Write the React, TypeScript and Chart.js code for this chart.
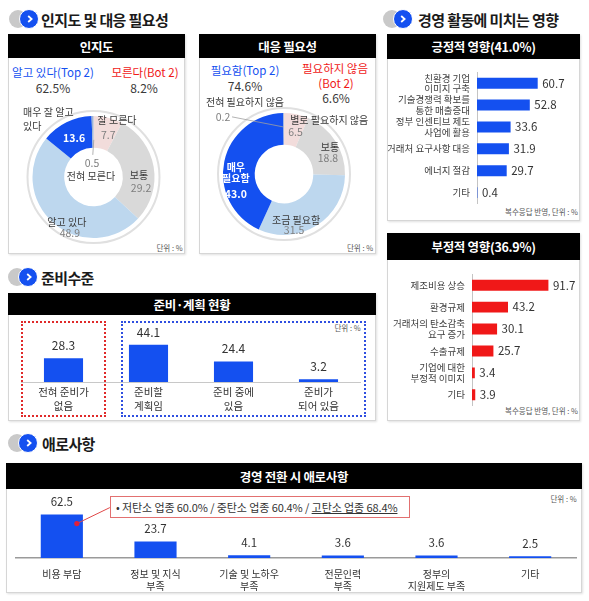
import React, { useEffect, useRef } from "react";
import { Chart, registerables } from "chart.js";

Chart.register(...registerables);

const FONT = '"Noto Sans CJK KR", "Noto Sans", sans-serif';
Chart.defaults.font.family = FONT;

// ---------- data ----------
const awarenessLabels: (string | string[])[] = ["잘 모른다", "보통", "알고 있다", ["매우 잘 알고", "있다"], "전혀 모른다"];
const awarenessValues = [7.7, 29.2, 48.9, 13.6, 0.5];
const awarenessTop2 = 62.5;
const awarenessBot2 = 8.2;

const needLabels: (string | string[])[] = ["별로 필요하지 않음", "보통", "조금 필요함", ["매우", "필요함"], "전혀 필요하지 않음"];
const needValues = [6.5, 18.8, 31.5, 43.0, 0.2];
const needTop2 = 74.6;
const needBot2 = 6.6;

const positiveShare = 41.0;
const positiveLabels: (string | string[])[] = [
  ["친환경 기업", "이미지 구축"],
  ["기술경쟁력 확보를", "통한 매출증대"],
  ["정부 인센티브 제도", "사업에 활용"],
  "거래처 요구사항 대응",
  "에너지 절감",
  "기타",
];
const positiveValues = [60.7, 52.8, 33.6, 31.9, 29.7, 0.4];

const negativeShare = 36.9;
const negativeLabels: (string | string[])[] = [
  "제조비용 상승",
  "환경규제",
  ["거래처의 탄소감축", "요구 증가"],
  "수출규제",
  ["기업에 대한", "부정적 이미지"],
  "기타",
];
const negativeValues = [91.7, 43.2, 30.1, 25.7, 3.4, 3.9];

const prepLabels: (string | string[])[] = [
  ["전혀 준비가", "없음"],
  ["준비할", "계획임"],
  ["준비 중에", "있음"],
  ["준비가", "되어 있음"],
];
const prepValues = [28.3, 44.1, 24.4, 3.2];

const barrierLabels: (string | string[])[] = [
  "비용 부담",
  ["정보 및 지식", "부족"],
  ["기술 및 노하우", "부족"],
  ["전문인력", "부족"],
  ["정부의", "지원제도 부족"],
  "기타",
];
const barrierValues = [62.5, 23.7, 4.1, 3.6, 3.6, 2.5];

const calloutGroups = ["저탄소 업종", "중탄소 업종", "고탄소 업종"];
const calloutValues = [60.0, 60.4, 68.4];

// ---------- styles ----------
const BLUE = "#1450f0";
const RED = "#f01818";
const DARK = "#3a3a3a";
const GRAY = "#7f7f7f";
const DONUT_COLORS = ["#f2dcdb", "#d9d9d9", "#bdd7ee", "#1450f0", "#9fb3d3"];

type LabelStyle = {
  nx: number; ny: number; na: CanvasTextAlign; nColor: string; nBold?: boolean; lh: number;
  vx: number; vy: number; va: CanvasTextAlign; vColor: string; vBold?: boolean;
  line?: [number, number, number, number];
};

const awarenessLabelStyle: LabelStyle[] = [
  { nx: -6.8, ny: -13.3, na: "left", nColor: DARK, lh: 13, vx: -3.3, vy: 1.7, va: "left", vColor: GRAY },
  { nx: 1, ny: 6, na: "center", nColor: DARK, lh: 13, vx: 3, vy: 18.6, va: "center", vColor: GRAY },
  { nx: 3, ny: 11, na: "center", nColor: DARK, lh: 13, vx: 6, vy: 22, va: "center", vColor: GRAY },
  { nx: -50.4, ny: -24.8, na: "left", nColor: DARK, lh: 14, vx: 0.6, vy: 1.2, va: "center", vColor: "#ffffff", vBold: true },
  { nx: -1.8, ny: 44, na: "center", nColor: DARK, lh: 13, vx: -0.8, vy: 31, va: "center", vColor: GRAY, line: [1, 8, 0, 23] },
];

const needLabelStyle: LabelStyle[] = [
  { nx: -3, ny: -10, na: "left", nColor: DARK, lh: 13, vx: -5, vy: 2, va: "left", vColor: GRAY },
  { nx: 8, ny: -2.5, na: "center", nColor: DARK, lh: 13, vx: 6, vy: 8, va: "center", vColor: GRAY },
  { nx: -12, ny: 8, na: "center", nColor: DARK, lh: 13, vx: -14, vy: 18, va: "center", vColor: GRAY },
  { nx: -4, ny: 2.3, na: "center", nColor: "#ffffff", nBold: true, lh: 11.5, vx: -4, vy: 29.3, va: "center", vColor: "#ffffff", vBold: true },
  { nx: -38.7, ny: -27, na: "center", nColor: DARK, lh: 13, vx: -60.7, vy: -12, va: "center", vColor: GRAY, line: [-51.7, -12, -0.7, -2] },
];

// ---------- plugins ----------
const ringPlugin = {
  id: "ring",
  beforeDatasetsDraw(chart: any) {
    const arc = chart.getDatasetMeta(0).data[0] as any;
    if (!arc) return;
    const ctx = chart.ctx;
    ctx.save();
    ctx.beginPath();
    ctx.arc(arc.x, arc.y, arc.outerRadius + 5, 0, Math.PI * 2);
    ctx.strokeStyle = "#e0e0e0";
    ctx.lineWidth = 2;
    ctx.stroke();
    ctx.restore();
  },
};

function donutLabels(labels: (string | string[])[], values: number[], styles: LabelStyle[]) {
  return {
    id: "donutLabels",
    afterDatasetsDraw(chart: any) {
      const ctx = chart.ctx as CanvasRenderingContext2D;
      const meta = chart.getDatasetMeta(0);
      meta.data.forEach((arc: any, i: number) => {
        const s = styles[i];
        const p = arc.tooltipPosition(false);
        ctx.save();
        if (s.line) {
          ctx.beginPath();
          ctx.moveTo(p.x + s.line[0], p.y + s.line[1]);
          ctx.lineTo(p.x + s.line[2], p.y + s.line[3]);
          ctx.strokeStyle = "#a0a0a0";
          ctx.lineWidth = 0.8;
          ctx.stroke();
        }
        const raw = labels[i];
        const lines = Array.isArray(raw) ? raw : [raw];
        ctx.textBaseline = "middle";
        ctx.font = `${s.nBold ? 700 : 400} 10px ${FONT}`;
        ctx.fillStyle = s.nColor;
        ctx.textAlign = s.na;
        lines.forEach((t, k) => ctx.fillText(t, p.x + s.nx, p.y + s.ny + k * s.lh));
        ctx.font = `${s.vBold ? 700 : 400} 10.5px ${FONT}`;
        ctx.fillStyle = s.vColor;
        ctx.textAlign = s.va;
        ctx.fillText(values[i].toFixed(1), p.x + s.vx, p.y + s.vy);
        ctx.restore();
      });
    },
  };
}

function valueLabels(horizontal: boolean, size: number, offset: number) {
  return {
    id: "valueLabels",
    afterDatasetsDraw(chart: any) {
      const ctx = chart.ctx as CanvasRenderingContext2D;
      const meta = chart.getDatasetMeta(0);
      const data = chart.data.datasets[0].data as number[];
      ctx.save();
      ctx.font = `400 ${size}px ${FONT}`;
      ctx.fillStyle = "#333333";
      ctx.textBaseline = "middle";
      meta.data.forEach((el: any, i: number) => {
        const txt = data[i].toFixed(1);
        if (horizontal) {
          ctx.textAlign = "left";
          ctx.fillText(txt, el.x + offset, el.y);
        } else {
          ctx.textAlign = "center";
          ctx.fillText(txt, el.x, el.y - offset);
        }
      });
      ctx.restore();
    },
  };
}

const calloutPointer = {
  id: "calloutPointer",
  afterDatasetsDraw(chart: any) {
    const bar = chart.getDatasetMeta(0).data[0] as any;
    if (!bar) return;
    const ctx = chart.ctx as CanvasRenderingContext2D;
    ctx.save();
    ctx.strokeStyle = "#e04848";
    ctx.lineWidth = 1;
    ctx.beginPath();
    ctx.moveTo(bar.x + 15, bar.y + 9);
    ctx.lineTo(bar.x + 48, bar.y - 7);
    ctx.stroke();
    ctx.fillStyle = "#e0203a";
    ctx.beginPath();
    ctx.arc(bar.x + 15, bar.y + 9, 2.6, 0, Math.PI * 2);
    ctx.fill();
    ctx.restore();
  },
};

// ---------- configs ----------
function donutConfig(labels: (string | string[])[], values: number[], styles: LabelStyle[], padding: any) {
  return {
    type: "doughnut" as const,
    data: {
      labels: labels.map((l) => (Array.isArray(l) ? l.join(" ") : l)),
      datasets: [{ data: values, backgroundColor: DONUT_COLORS, borderWidth: 0, hoverOffset: 0 }],
    },
    options: {
      animation: false as const,
      responsive: true,
      maintainAspectRatio: false,
      events: [] as any[],
      cutout: "48%",
      layout: { padding },
      plugins: { legend: { display: false }, tooltip: { enabled: false } },
    },
    plugins: [ringPlugin, donutLabels(labels, values, styles)],
  };
}

function hbarConfig(labels: (string | string[])[], values: number[], color: string, max: number, axisWidth: number, padding: any) {
  return {
    type: "bar" as const,
    data: {
      labels,
      datasets: [{ data: values, backgroundColor: color, barPercentage: 0.5, categoryPercentage: 1 }],
    },
    options: {
      indexAxis: "y" as const,
      animation: false as const,
      responsive: true,
      maintainAspectRatio: false,
      events: [] as any[],
      layout: { padding },
      plugins: { legend: { display: false }, tooltip: { enabled: false } },
      scales: {
        x: { display: false, min: 0, max },
        y: {
          grid: { display: false, drawTicks: false },
          border: { display: true, color: "#c4c4c4", width: 1 },
          ticks: { font: { size: 9.5, lineHeight: 1.1 }, color: "#404040", padding: 7, autoSkip: false },
          afterFit: (s: any) => {
            s.width = axisWidth;
          },
        },
      },
    },
    plugins: [valueLabels(true, 11.5, 4.5)],
  };
}

function vbarConfig(labels: (string | string[])[], values: number[], max: number, axisH: number, padTop: number,
  fontSize: number, lineHeight: number, tickPad: number, barPct: number, borderColor: string, borderWidth: number, extra: any[]) {
  return {
    type: "bar" as const,
    data: {
      labels,
      datasets: [{ data: values, backgroundColor: BLUE, barPercentage: barPct, categoryPercentage: 1 }],
    },
    options: {
      animation: false as const,
      responsive: true,
      maintainAspectRatio: false,
      events: [] as any[],
      layout: { padding: { top: padTop, left: 0, right: 0, bottom: 0 } },
      plugins: { legend: { display: false }, tooltip: { enabled: false } },
      scales: {
        x: {
          grid: { display: false, drawTicks: false },
          border: { display: true, color: borderColor, width: borderWidth },
          ticks: { font: { size: fontSize, lineHeight }, color: "#333333", padding: tickPad, autoSkip: false, maxRotation: 0 },
          afterFit: (s: any) => {
            s.height = axisH;
          },
        },
        y: { display: false, min: 0, max },
      },
    },
    plugins: [valueLabels(false, fontSize + 1.5, 12.5), ...extra],
  };
}

// ---------- components ----------
function ChartCanvas({ left, top, width, height, make }: { left: number; top: number; width: number; height: number; make: () => any }) {
  const ref = useRef<HTMLCanvasElement>(null);
  useEffect(() => {
    const chart = new Chart(ref.current as HTMLCanvasElement, make());
    return () => chart.destroy();
  }, []);
  return (
    <div style={{ position: "absolute", left, top, width, height }}>
      <canvas ref={ref} />
    </div>
  );
}

function Icon({ cx, cy }: { cx: number; cy: number }) {
  return (
    <>
      <div style={{ position: "absolute", left: cx - 20, top: cy - 9, width: 18, height: 18, borderRadius: "50%", background: "#c9c9c9" }} />
      <div style={{ position: "absolute", left: cx - 10, top: cy - 10, width: 20, height: 20, borderRadius: "50%", background: BLUE, border: "1.5px solid #fff", boxSizing: "border-box" }} />
      <svg style={{ position: "absolute", left: cx - 2.5, top: cy - 4 }} width="7" height="8">
        <polyline points="1.2,1 4.6,4 1.2,7" fill="none" stroke="#fff" strokeWidth="1.8" />
      </svg>
    </>
  );
}

function Heading({ x, y, text }: { x: number; y: number; text: string }) {
  return (
    <div style={{ position: "absolute", left: x, top: y, transform: "translateY(-50%)", fontSize: 15, fontWeight: 700, letterSpacing: -0.6, lineHeight: 1, color: "#1a1a1a", whiteSpace: "nowrap" }}>
      {text}
    </div>
  );
}

function Box({ x, y, w, h, headH, title }: { x: number; y: number; w: number; h: number; headH: number; title: string }) {
  return (
    <div style={{ position: "absolute", left: x, top: y, width: w, height: h, border: "1px solid #d6d6d6", boxSizing: "border-box", boxShadow: "1px 1px 2px rgba(0,0,0,0.12)", background: "#fff" }}>
      <div style={{ margin: -1, height: headH, background: "#000", color: "#fff", fontWeight: 700, fontSize: 12.5, letterSpacing: -0.3, display: "flex", alignItems: "center", justifyContent: "center" }}>
        {title}
      </div>
    </div>
  );
}

function T({ x, y, children, size = 11, color = DARK, align = "center", weight = 400 }: any) {
  const tx = align === "center" ? "-50%" : align === "right" ? "-100%" : "0";
  return (
    <div style={{ position: "absolute", left: x, top: y, transform: `translate(${tx}, -50%)`, fontSize: size, color, fontWeight: weight, lineHeight: 1.1, whiteSpace: "nowrap" }}>
      {children}
    </div>
  );
}

export default function App() {
  return (
    <div style={{ position: "absolute", left: 0, top: 0, width: 589, height: 601, background: "#fff", fontFamily: FONT, overflow: "hidden" }}>
      <Icon cx={29} cy={19} />
      <Heading x={41} y={19} text="인지도 및 대응 필요성" />
      <Icon cx={402.5} cy={19} />
      <Heading x={418} y={19} text="경영 활동에 미치는 영향" />
      <Icon cx={28} cy={277} />
      <Heading x={41} y={277} text="준비수준" />
      <Icon cx={28} cy={443} />
      <Heading x={42} y={443} text="애로사항" />

      <Box x={8} y={34} w={177} h={220} headH={24} title="인지도" />
      <Box x={199} y={34} w={177} h={220} headH={24} title="대응 필요성" />
      <Box x={387} y={34} w={193} h={187} headH={25} title={`긍정적 영향(${positiveShare.toFixed(1)}%)`} />
      <Box x={387} y={233} w={193} h={188} headH={27} title={`부정적 영향(${negativeShare.toFixed(1)}%)`} />
      <Box x={8} y={293} w={368} h={128} headH={22} title="준비·계획 현황" />
      <Box x={6} y={463} w={576} h={130} headH={26} title="경영 전환 시 애로사항" />

      {/* dotted groups */}
      <div style={{ position: "absolute", left: 21, top: 321, width: 85, height: 96, border: "2px dotted #e02a2a", boxSizing: "border-box" }} />
      <div style={{ position: "absolute", left: 121, top: 321, width: 245, height: 96, border: "2px dotted #2f4fe0", boxSizing: "border-box" }} />

      {/* summary texts */}
      <T x={53} y={72} color={BLUE} size={11.5}>알고 있다(Top 2)</T>
      <T x={53} y={88} size={12}>{awarenessTop2.toFixed(1)}%</T>
      <T x={145} y={72} color={RED} size={11.5}>모른다(Bot 2)</T>
      <T x={144} y={88} size={12}>{awarenessBot2.toFixed(1)}%</T>
      <T x={169.5} y={248} size={7.5} color="#555">단위 : %</T>

      <T x={245} y={70} color={BLUE} size={11.5}>필요함(Top 2)</T>
      <T x={245} y={86} size={12}>{needTop2.toFixed(1)}%</T>
      <T x={335} y={68} color={RED} size={11.5}>필요하지 않음</T>
      <T x={336} y={83} color={RED} size={11.5}>(Bot 2)</T>
      <T x={336} y={98} size={12}>{needBot2.toFixed(1)}%</T>
      <T x={360} y={248} size={7.5} color="#555">단위 : %</T>

      <T x={578} y={212} size={7.5} color="#555" align="right">복수응답 반영, 단위 : %</T>
      <T x={578} y={411} size={7.5} color="#555" align="right">복수응답 반영, 단위 : %</T>
      <T x={347.5} y={328} size={7.5} color="#555">단위 : %</T>
      <T x={563.5} y={499} size={7.5} color="#555">단위 : %</T>

      {/* charts */}
      <ChartCanvas left={9} top={100} width={175} height={153}
        make={() => donutConfig(awarenessLabels, awarenessValues, awarenessLabelStyle, { left: 23.5, right: 29.5, top: 16, bottom: 15 })} />
      <ChartCanvas left={200} top={90} width={175} height={163}
        make={() => donutConfig(needLabels, needValues, needLabelStyle, { left: 23, right: 30, top: 23, bottom: 18 })} />
      <ChartCanvas left={388} top={60} width={191} height={161}
        make={() => hbarConfig(positiveLabels, positiveValues, BLUE, 100, 89, { top: 5, bottom: 0, right: 2, left: 0 })} />
      <ChartCanvas left={388} top={262} width={191} height={156}
        make={() => hbarConfig(negativeLabels, negativeValues, RED, 126, 84, { top: 3.5, bottom: 1.5, right: 2, left: 0 })} />
      <ChartCanvas left={20.5} top={318} width={340} height={102}
        make={() => vbarConfig(prepLabels, prepValues, 70, 38, 5, 10.5, 1.333, 3, 0.46, "#c8c8c8", 1, [])} />
      <ChartCanvas left={15} top={490} width={562} height={103}
        make={() => vbarConfig(barrierLabels, barrierValues, 95, 35, 2, 10, 1.2, 10, 0.45, "#9a9a9a", 1.5, [calloutPointer])} />

      {/* callout */}
      <div style={{ position: "absolute", left: 110, top: 496, width: 300, height: 22, border: "1px solid #e27070", boxSizing: "border-box", background: "#fff", paddingLeft: 5, fontSize: 11, lineHeight: "20px", color: "#333", whiteSpace: "pre", letterSpacing: -0.1 }}>
        <span>{"• "}</span>
        {calloutGroups.map((g, i) => (
          <React.Fragment key={g}>
            <span style={i === 2 ? { textDecoration: "underline" } : undefined}>{`${g} ${calloutValues[i].toFixed(1)}%`}</span>
            {i < calloutGroups.length - 1 ? <span>{" / "}</span> : null}
          </React.Fragment>
        ))}
      </div>
    </div>
  );
}
